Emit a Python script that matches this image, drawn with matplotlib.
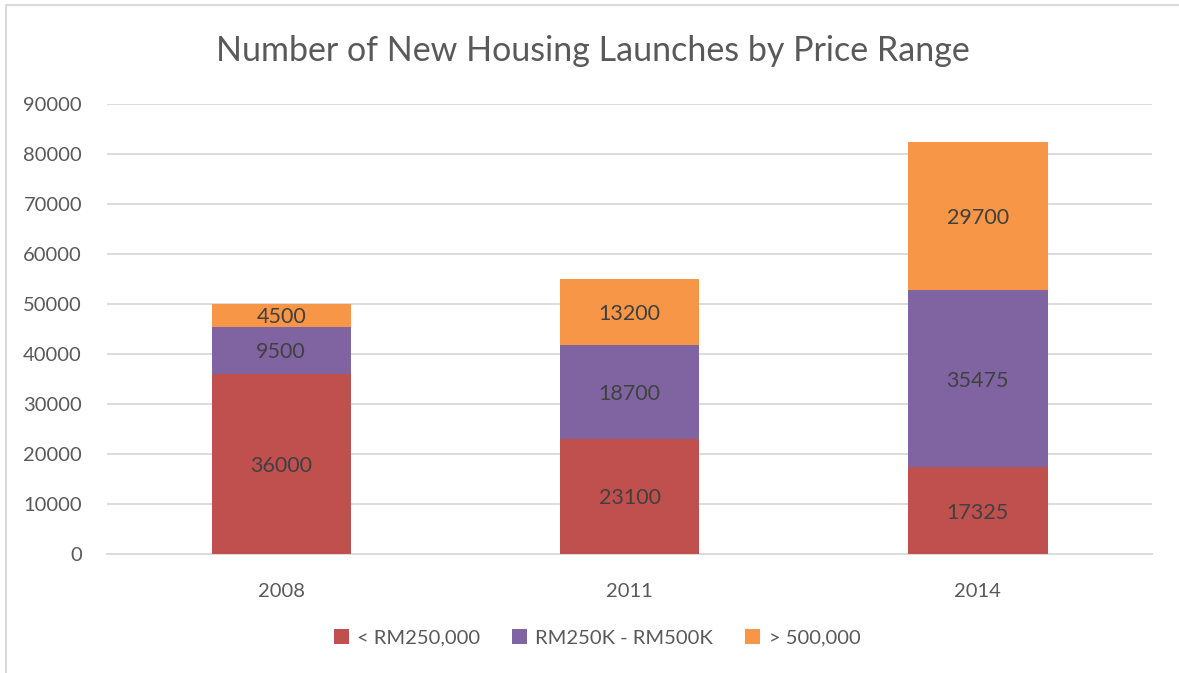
import matplotlib.pyplot as plt
from matplotlib.patches import Patch
from matplotlib.lines import Line2D
import numpy as np

# Chart data
years = ['2008', '2011', '2014']
series_names = ['< RM250,000', 'RM250K - RM500K', '> 500,000']
below_250k = [36000, 23100, 17325]
mid_250k_500k = [9500, 18700, 35475]
above_500k = [4500, 13200, 29700]
y_ticks = [0, 10000, 20000, 30000, 40000, 50000, 60000, 70000, 80000, 90000]

COLORS = ['#C0504D', '#8064A2', '#F79646']
TEXT = '#595959'
LABEL = '#404040'
GRID = '#D9D9D9'

plt.rcParams['font.family'] = ['Lato', 'DejaVu Sans']

W, H = 1179, 673
fig = plt.figure(figsize=(W / 100, H / 100), dpi=100)
fig.patch.set_facecolor('white')

# plot area in pixels
x0, x1, ytop, ybot = 107, 1152, 104, 554
ax = fig.add_axes([x0 / W, 1 - ybot / H, (x1 - x0) / W, (ybot - ytop) / H])

x = np.arange(len(years))
bottom = np.zeros(len(years))
for vals, color, name in zip([below_250k, mid_250k_500k, above_500k], COLORS, series_names):
    vals = np.array(vals, dtype=float)
    ax.bar(x, vals, width=0.4, bottom=bottom, color=color, label=name, zorder=3)
    for xi, b, v in zip(x, bottom, vals):
        ax.text(xi, b + v / 2, f'{int(v)}', ha='center', va='center_baseline',
                fontsize=15.5, color=LABEL, zorder=4)
    bottom += vals

ax.set_xlim(-0.5, len(years) - 0.5)
ax.set_ylim(0, 90000)
ax.set_yticks(y_ticks)
ax.set_yticklabels([str(t) for t in y_ticks])
ax.set_xticks(x)
ax.set_xticklabels(years)
ax.tick_params(axis='both', length=0, labelsize=14.5, colors=TEXT)
ax.tick_params(axis='y', pad=18)
ax.tick_params(axis='x', pad=21)
ax.grid(axis='y', color=GRID, linewidth=1.3, zorder=0)
for s in ['top', 'right', 'left']:
    ax.spines[s].set_visible(False)
ax.spines['bottom'].set_color(GRID)
ax.spines['bottom'].set_linewidth(1.3)

fig.text(593 / W, 1 - 51 / H, 'Number of New Housing Launches by Price Range',
         ha='center', va='center', fontsize=24.5, color=TEXT)

handles = [Patch(facecolor=c, label=n) for c, n in zip(COLORS, series_names)]
fig.legend(handles=handles, loc='center', bbox_to_anchor=(597 / W, 1 - 638 / H),
           ncol=3, frameon=False, fontsize=14.5, labelcolor=TEXT,
           handlelength=0.75, handleheight=0.75, handletextpad=0.4,
           columnspacing=1.6)

# chart border (left and top visible)
fig.add_artist(Line2D([6 / W, 6 / W], [0, 1 - 5 / H], color=GRID, linewidth=1.5))
fig.add_artist(Line2D([6 / W, 1], [1 - 5 / H, 1 - 5 / H], color=GRID, linewidth=1.5))

fig.savefig('out.png', dpi=100)
